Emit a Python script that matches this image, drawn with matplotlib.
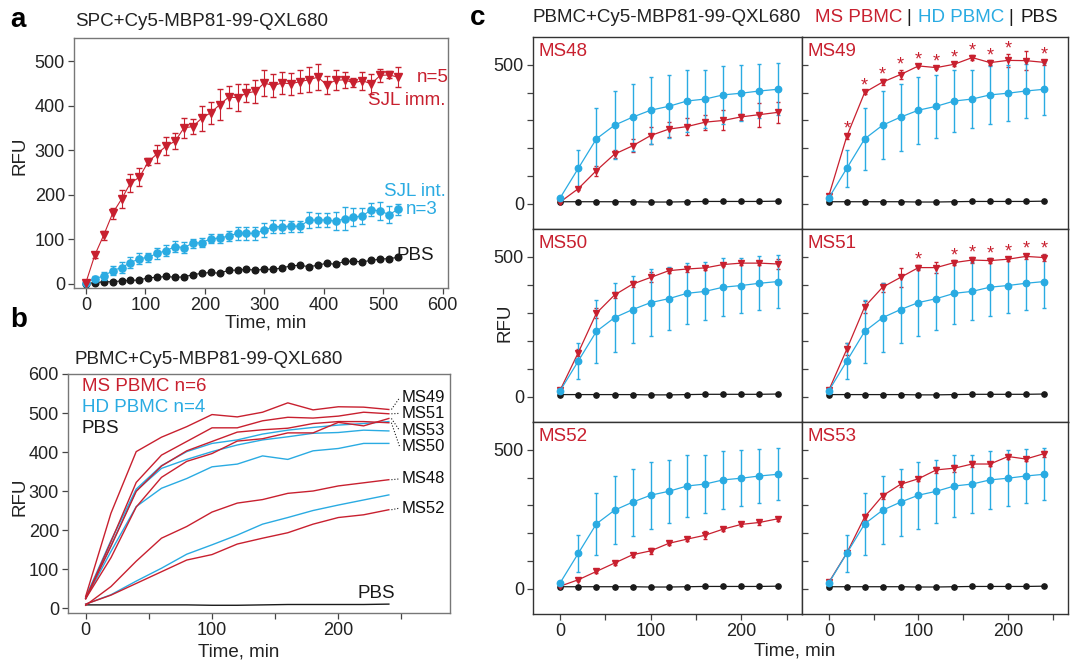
import numpy as np
import matplotlib
matplotlib.use('Agg')
import matplotlib.pyplot as plt

plt.rcParams['font.family'] = ['Liberation Sans', 'DejaVu Sans']

RED = '#C8202F'
BLUE = '#2AABE2'
BLACK = '#1A1A1A'
W, H = 1073, 661

# ---------------- panel a data (SPC, 15 min steps) ----------------
t_a = [0, 15, 30, 45, 60, 75, 90, 105, 120, 135, 150, 165, 180, 195, 210, 225, 240, 255,
       270, 285, 300, 315, 330, 345, 360, 375, 390, 405, 420, 435, 450, 465, 480, 495, 510, 525]
sjl_imm = [2, 64, 109, 158, 190, 226, 239, 274, 292, 309, 320, 350, 353, 372, 384, 402, 419, 418,
           428, 432, 451, 445, 451, 449, 454, 458, 464, 447, 457, 458, 451, 456, 449, 468, 469, 464]
sjl_imm_err = [3, 6, 10, 12, 20, 20, 20, 8, 20, 20, 18, 22, 17, 28, 25, 35, 25, 30,
               20, 25, 30, 25, 25, 25, 25, 28, 30, 20, 22, 18, 10, 20, 22, 15, 8, 22]
sjl_int = [2, 11, 17, 29, 36, 47, 56, 59, 68, 74, 83, 81, 91, 92, 101, 102, 107, 113,
           113, 113, 120, 128, 128, 129, 129, 142, 143, 143, 140, 146, 149, 152, 166, 163, 155, 167]
sjl_int_err = [3, 6, 8, 10, 12, 12, 12, 10, 12, 12, 12, 12, 10, 10, 10, 10, 12, 15,
               15, 15, 15, 15, 15, 12, 12, 18, 15, 15, 20, 25, 20, 18, 15, 20, 20, 12]
pbs_a = [0, 2, 4, 4, 6, 7, 8, 13, 14, 16, 14, 15, 20, 23, 25, 23, 30, 30,
         32, 30, 32, 32, 35, 40, 41, 38, 41, 46, 43, 50, 50, 49, 52, 55, 56, 59]

# ---------------- panels b, c data (PBMC, 20 min steps) ----------------
t_c = [0, 20, 40, 60, 80, 100, 120, 140, 160, 180, 200, 220, 240]
ms48 = [7, 55, 120, 179, 209, 246, 269, 278, 294, 300, 313, 321, 329]
ms49 = [30, 243, 401, 438, 465, 496, 490, 502, 526, 508, 516, 515, 509]
ms50 = [24, 158, 299, 364, 403, 427, 451, 457, 461, 473, 478, 478, 475]
ms51 = [24, 170, 322, 392, 427, 462, 462, 480, 489, 487, 492, 502, 498]
ms52 = [10, 33, 63, 93, 123, 137, 164, 179, 193, 215, 232, 239, 252]
ms53 = [24, 129, 259, 335, 376, 396, 428, 434, 449, 449, 476, 467, 486]
ms48_err = [2, 6, 18, 14, 23, 29, 27, 30, 27, 36, 12, 43, 37]
ms49_err = [3, 8, 5, 10, 16, 5, 5, 5, 8, 8, 24, 33, 8]
ms50_err = [3, 12, 18, 12, 12, 18, 8, 10, 8, 6, 8, 8, 18]
ms51_err = [3, 21, 21, 16, 34, 10, 19, 8, 10, 8, 8, 8, 12]
ms52_err = [2, 6, 6, 6, 8, 10, 6, 8, 14, 6, 6, 8, 6]
ms53_err = [2, 4, 10, 10, 8, 8, 10, 12, 10, 8, 8, 8, 10]
ms49_stars = [1, 2, 3, 4, 5, 6, 7, 8, 9, 10, 12]
ms51_stars = [5, 7, 8, 9, 10, 11, 12]

hd1 = [10, 34, 69, 102, 138, 162, 187, 215, 232, 250, 264, 277, 290]
hd2 = [24, 145, 260, 307, 332, 362, 369, 390, 381, 403, 409, 422, 422]
hd3 = [26, 160, 301, 358, 381, 401, 418, 431, 439, 448, 450, 456, 454]
hd4 = [28, 173, 305, 365, 401, 422, 431, 446, 456, 463, 469, 473, 478]
hd_mean = [22, 128, 234, 283, 312, 337, 351, 370, 377, 392, 398, 406, 412]
hd_err = [0, 66, 112, 123, 120, 120, 113, 110, 104, 104, 100, 96, 94]
pbs_c = [8, 8, 8, 8, 8, 7, 7, 8, 9, 9, 9, 9, 10]

ms_names = ['MS48', 'MS49', 'MS50', 'MS51', 'MS52', 'MS53']
ms_vals = [ms48, ms49, ms50, ms51, ms52, ms53]
ms_errs = [ms48_err, ms49_err, ms50_err, ms51_err, ms52_err, ms53_err]
ms_stars = [[], ms49_stars, [], ms51_stars, [], []]
# label heights of the MS tags in panel b
ms_tag_y = [331, 539, 414, 499, 256, 455]

FS = 13.5


def box(l, t, r, b):
    return [l / W, 1 - b / H, (r - l) / W, (b - t) / H]


fig = plt.figure(figsize=(W / 100, H / 100), dpi=100)


def ftext(x, y, s, **kw):
    fig.text(x / W, 1 - y / H, s, **kw)


def style(ax, spine_col):
    for s in ax.spines.values():
        s.set_color(spine_col)
        s.set_linewidth(1.0)
    ax.tick_params(labelsize=13, length=4, width=0.9, color='#444444',
                   labelcolor='#222222', pad=2.5)


# ---------------- panel a ----------------
ax = fig.add_axes(box(74, 38, 448, 288))
ax.plot(t_a, pbs_a, 'o-', color=BLACK, ms=4.8, lw=0.8)
ax.errorbar(t_a, sjl_int, yerr=sjl_int_err, fmt='o-', color=BLUE, ms=5.2, lw=0.8,
            elinewidth=0.8, capsize=2)
ax.errorbar(t_a, sjl_imm, yerr=sjl_imm_err, fmt='v-', color=RED, ms=5.5, lw=0.8,
            elinewidth=0.8, capsize=2)
ax.set_xlim(-20, 609)
ax.set_ylim(-10, 552)
ax.set_xticks([0, 100, 200, 300, 400, 500, 600])
ax.set_yticks([0, 100, 200, 300, 400, 500])
style(ax, '#777777')
ax.text(556, 464, 'n=5', color=RED, fontsize=FS, va='center')
ax.text(604, 412, 'SJL imm.', color=RED, fontsize=FS, va='center', ha='right')
ax.text(606, 207, 'SJL int.', color=BLUE, fontsize=FS, va='center', ha='right')
ax.text(591, 166, 'n=3', color=BLUE, fontsize=FS, va='center', ha='right')
ax.text(522, 63, 'PBS', color=BLACK, fontsize=FS, va='center')
ftext(266, 323, 'Time, min', fontsize=FS, ha='center', va='center', color='#222222')
ftext(20, 156, 'RFU', fontsize=FS, ha='center', va='center', rotation=90, color='#222222')
ftext(75, 22, 'SPC+Cy5-MBP81-99-QXL680', fontsize=FS, va='center', color='#222222')
ftext(10, 20, 'a', fontsize=20, fontweight='bold', va='center')

# ---------------- panel b ----------------
ax = fig.add_axes(box(68, 374, 450, 613))
ax.plot(t_c, pbs_c, '-', color=BLACK, lw=1.0)
for hd in [hd1, hd2, hd3, hd4]:
    ax.plot(t_c, hd, '-', color=BLUE, lw=1.0)
for name, vals, ty in zip(ms_names, ms_vals, ms_tag_y):
    ax.plot(t_c, vals, '-', color=RED, lw=1.0)
    ax.plot([242, 248.5], [vals[-1], ty], ':', color=BLACK, lw=0.8)
    ax.text(250, ty, name, fontsize=12, va='center', color='#111111')
ax.set_xlim(-14, 288.4)
ax.set_ylim(-12.8, 600)
ax.set_xticks([0, 50, 100, 150, 200, 250])
ax.set_xticklabels(['0', '', '100', '', '200', ''])
ax.set_yticks([0, 100, 200, 300, 400, 500, 600])
style(ax, '#777777')
ax.text(-3, 569, 'MS PBMC n=6', color=RED, fontsize=FS, va='center')
ax.text(-3, 515, 'HD PBMC n=4', color=BLUE, fontsize=FS, va='center')
ax.text(-3, 461, 'PBS', color=BLACK, fontsize=FS, va='center')
ax.text(215, 38, 'PBS', color=BLACK, fontsize=FS, va='center')
ftext(239, 652, 'Time, min', fontsize=FS, ha='center', va='center', color='#222222')
ftext(20, 497, 'RFU', fontsize=FS, ha='center', va='center', rotation=90, color='#222222')
ftext(75, 359, 'PBMC+Cy5-MBP81-99-QXL680', fontsize=FS, va='center', color='#222222')
ftext(10, 320, 'b', fontsize=20, fontweight='bold', va='center')

# ---------------- panel c ----------------
cols = [(533, 802), (802, 1068)]
rows = [(37, 229), (229, 422), (422, 614)]
for i, (name, vals, errs, stars) in enumerate(zip(ms_names, ms_vals, ms_errs, ms_stars)):
    r, c = divmod(i, 2)
    ax = fig.add_axes(box(cols[c][0], rows[r][0], cols[c][1], rows[r][1]))
    ax.plot(t_c, pbs_c, 'o-', color=BLACK, ms=3.8, lw=0.9)
    ax.errorbar(t_c, vals, yerr=errs, fmt='v-', color=RED, ms=4.2, lw=0.9,
                elinewidth=0.8, capsize=1.2)
    ax.errorbar(t_c, hd_mean, yerr=hd_err, fmt='o-', color=BLUE, ms=4.6, lw=0.9,
                elinewidth=1.0, capsize=1.2)
    for k in stars:
        ax.text(t_c[k], vals[k] + errs[k] + 17, '*', color=RED, fontsize=13,
                ha='center', va='center')
    ax.set_xlim(-30, 267)
    ax.set_ylim(-90, 600)
    ax.set_yticks([0, 100, 200, 300, 400, 500])
    style(ax, '#333333')
    if c == 0:
        ax.set_yticklabels(['0', '', '', '', '', '500'])
    else:
        ax.set_yticklabels([])
        ax.tick_params(axis='y', direction='in')
    if r == 2:
        ax.set_xticks([0, 50, 100, 150, 200, 250])
        ax.set_xticklabels(['0', '', '100', '', '200', ''])
    else:
        ax.set_xticks([])
    ax.text(0.02, 0.97, name, transform=ax.transAxes, color=RED, fontsize=FS,
            va='top', ha='left')

ftext(505, 323, 'RFU', fontsize=FS, ha='center', va='center', rotation=90, color='#222222')
ftext(795, 651, 'Time, min', fontsize=FS, ha='center', va='center', color='#222222')
ftext(533, 17, 'PBMC+Cy5-MBP81-99-QXL680', fontsize=FS, va='center', color='#222222')
ftext(815, 17, 'MS PBMC', fontsize=FS, va='center', color=RED)
ftext(906, 17, '|', fontsize=FS, va='center', color=BLACK)
ftext(918, 17, 'HD PBMC', fontsize=FS, va='center', color=BLUE)
ftext(1008, 17, '|', fontsize=FS, va='center', color=BLACK)
ftext(1021, 17, 'PBS', fontsize=FS, va='center', color=BLACK)
ftext(470, 18, 'c', fontsize=20, fontweight='bold', va='center')

fig.savefig('out.png', dpi=100)
